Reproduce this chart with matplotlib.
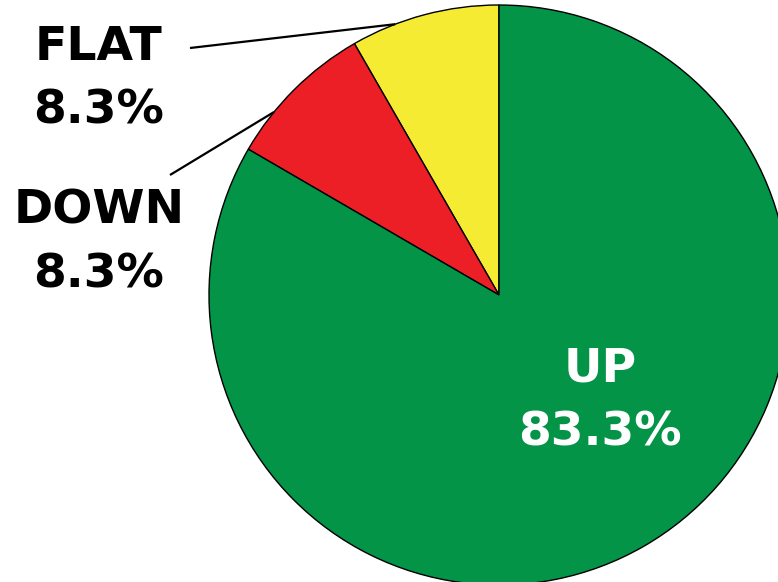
import numpy as np
import matplotlib
matplotlib.use("Agg")
import matplotlib.pyplot as plt

# share of moves, counter-clockwise from 12 o'clock
labels = ["FLAT", "DOWN", "UP"]
shares = [8.3, 8.3, 83.3]
colors = ["#F6EB33", "#EC1F26", "#039447"]

W, H = 778, 582
CX, CY, R = 499, H - 295, 290

fig = plt.figure(figsize=(W / 100, H / 100), dpi=100)
ax = fig.add_axes([0, 0, 1, 1])

wedges, _ = ax.pie(shares, colors=colors, startangle=90, counterclock=True,
                   center=(CX, CY), radius=R,
                   wedgeprops=dict(edgecolor="black", linewidth=1.0))
# pie() resets the limits, so set them afterwards
ax.set_xlim(0, W)
ax.set_ylim(0, H)
ax.set_aspect("equal")
ax.axis("off")

font = dict(fontsize=34, fontweight="bold", family="DejaVu Sans",
            ha="center", va="baseline")

# label x, baseline of name, baseline of value (pixels from top)
text_pos = {"FLAT": (99, 60, 123), "DOWN": (99, 224, 287), "UP": (600, 382, 445)}
# start of leader line for the two small slices
leader = {"FLAT": (190, 48), "DOWN": (170, 175)}

for w, lab, val in zip(wedges, labels, shares):
    tx, b1, b2 = text_pos[lab]
    col = "white" if lab == "UP" else "black"
    ax.text(tx, H - b1, lab, color=col, **font)
    ax.text(tx, H - b2, f"{val}%", color=col, **font)
    if lab in leader:
        lx, ly = leader[lab]
        ang = np.deg2rad((w.theta1 + w.theta2) / 2 + 6)
        ex, ey = CX + R * np.cos(ang), CY + R * np.sin(ang)
        ax.plot([lx, ex], [H - ly, ey], color="black", lw=1.6, solid_capstyle="butt")

fig.savefig("out.png", dpi=100, facecolor="white")
